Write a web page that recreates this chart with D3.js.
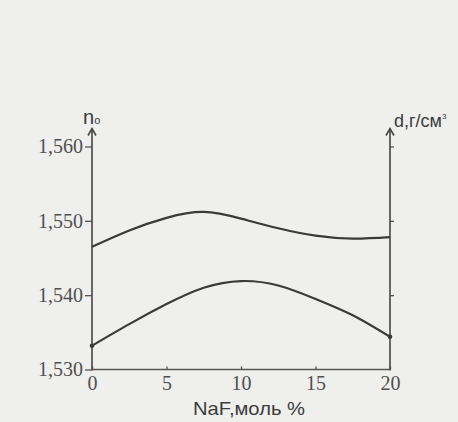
<!DOCTYPE html>
<html>
<head>
<meta charset="utf-8">
<script src="https://cdn.jsdelivr.net/npm/d3@7"></script>
<style>
  html, body { margin: 0; padding: 0; background: #efefed; }
  svg { display: block; }
</style>
</head>
<body>
<div id="chart"></div>
<script>
"use strict";

// NaF content, mol %
var naf = [0, 2.5, 5, 7.5, 10, 12.5, 15, 17.5, 20];
// upper curve
var upper = [1.5465, 1.5487, 1.5504, 1.5512, 1.5503, 1.5490, 1.5480, 1.5476, 1.5478];
// lower curve
var lower = [1.5332, 1.5361, 1.5388, 1.5410, 1.5419, 1.5413, 1.5395, 1.5373, 1.5344];

var xTicks = [0, 5, 10, 15, 20];
var yTicks = [1.530, 1.540, 1.550, 1.560];
var yTickLabels = ["1,530", "1,540", "1,550", "1,560"];

var W = 458, H = 422;
var ink = "#3a3a3a";

var svg = d3.select("#chart").append("svg")
  .attr("width", W)
  .attr("height", H);

svg.append("rect")
  .attr("width", W)
  .attr("height", H)
  .attr("fill", "#efefed");

var x = d3.scaleLinear().domain([0, 20]).range([92, 390]);
var y = d3.scaleLinear().domain([1.530, 1.560]).range([369.5, 146.5]);

// left axis
var left = svg.append("g")
  .attr("transform", "translate(" + x(0) + ",0)")
  .call(d3.axisLeft(y)
    .tickValues(yTicks)
    .tickFormat(function(d, i) { return yTickLabels[i]; })
    .tickSizeInner(7)
    .tickSizeOuter(0)
    .tickPadding(2));

// right axis, ticks only
var right = svg.append("g")
  .attr("transform", "translate(" + x(20) + ",0)")
  .call(d3.axisRight(y)
    .tickValues(yTicks.slice(1))
    .tickFormat("")
    .tickSizeInner(4)
    .tickSizeOuter(0));

// bottom axis
var bottom = svg.append("g")
  .attr("transform", "translate(0," + y(1.530) + ")")
  .call(d3.axisBottom(x)
    .tickValues(xTicks)
    .tickSizeInner(-3)
    .tickSizeOuter(0)
    .tickPadding(6));

[left, right, bottom].forEach(function(g) {
  g.select(".domain").remove();
  g.selectAll(".tick line").attr("stroke", "#555").attr("stroke-width", 1.3);
  g.selectAll("text")
   .attr("font-family", "'Liberation Serif', 'Times New Roman', serif")
   .attr("font-size", "20px")
   .attr("fill", "#505050");
});

// axis lines, vertical ones end in arrows
var yTop = y(1.560) - 18;
[x(0), x(20)].forEach(function(px) {
  svg.append("line")
   .attr("x1", px).attr("x2", px)
   .attr("y1", y(1.530) + 1).attr("y2", yTop)
   .attr("stroke", "#444")
   .attr("stroke-width", 1.6);
  svg.append("path")
   .attr("d", "M" + (px - 4) + "," + (yTop + 7) + "L" + px + "," + yTop + "L" + (px + 4) + "," + (yTop + 7))
   .attr("fill", "none")
   .attr("stroke", "#444")
   .attr("stroke-width", 1.6);
});
svg.append("line")
  .attr("x1", x(0)).attr("x2", x(20))
  .attr("y1", y(1.530)).attr("y2", y(1.530))
  .attr("stroke", "#555")
  .attr("stroke-width", 1.6);

// curves
var line = d3.line()
  .x(function(d, i) { return x(naf[i]); })
  .y(function(d) { return y(d); })
  .curve(d3.curveNatural);

[upper, lower].forEach(function(s) {
  svg.append("path")
   .attr("d", line(s))
   .attr("fill", "none")
   .attr("stroke", ink)
   .attr("stroke-width", 2.2);
});

// end points of the lower curve
svg.selectAll("circle.end")
  .data([0, naf.length - 1])
  .enter().append("circle")
  .attr("class", "end")
  .attr("cx", function(i) { return x(naf[i]); })
  .attr("cy", function(i) { return y(lower[i]); })
  .attr("r", 2.3)
  .attr("fill", ink);

// axis titles
var sans = "'Liberation Sans', Arial, sans-serif";
var nTitle = svg.append("text")
  .attr("x", x(0) - 9)
  .attr("y", 124)
  .attr("font-family", sans)
  .attr("font-size", "20px")
  .attr("fill", "#3c3c3c");
nTitle.append("tspan").text("n");
nTitle.append("tspan")
  .attr("font-size", "11px")
  .attr("dy", 0)
  .text("o");

var dTitle = svg.append("text")
  .attr("x", x(20) + 4)
  .attr("y", 127)
  .attr("font-family", sans)
  .attr("font-size", "18px")
  .attr("fill", "#3c3c3c");
dTitle.append("tspan").text("d,г/см");
dTitle.append("tspan")
  .attr("font-size", "8px")
  .attr("dy", -8)
  .text("3");

svg.append("text")
  .attr("x", (x(0) + x(20)) / 2 + 8)
  .attr("y", 415)
  .attr("text-anchor", "middle")
  .attr("font-family", sans)
  .attr("font-size", "19px")
  .attr("textLength", 112)
  .attr("lengthAdjust", "spacingAndGlyphs")
  .attr("fill", "#3c3c3c")
  .text("NaF,моль %");
</script>
</body>
</html>
